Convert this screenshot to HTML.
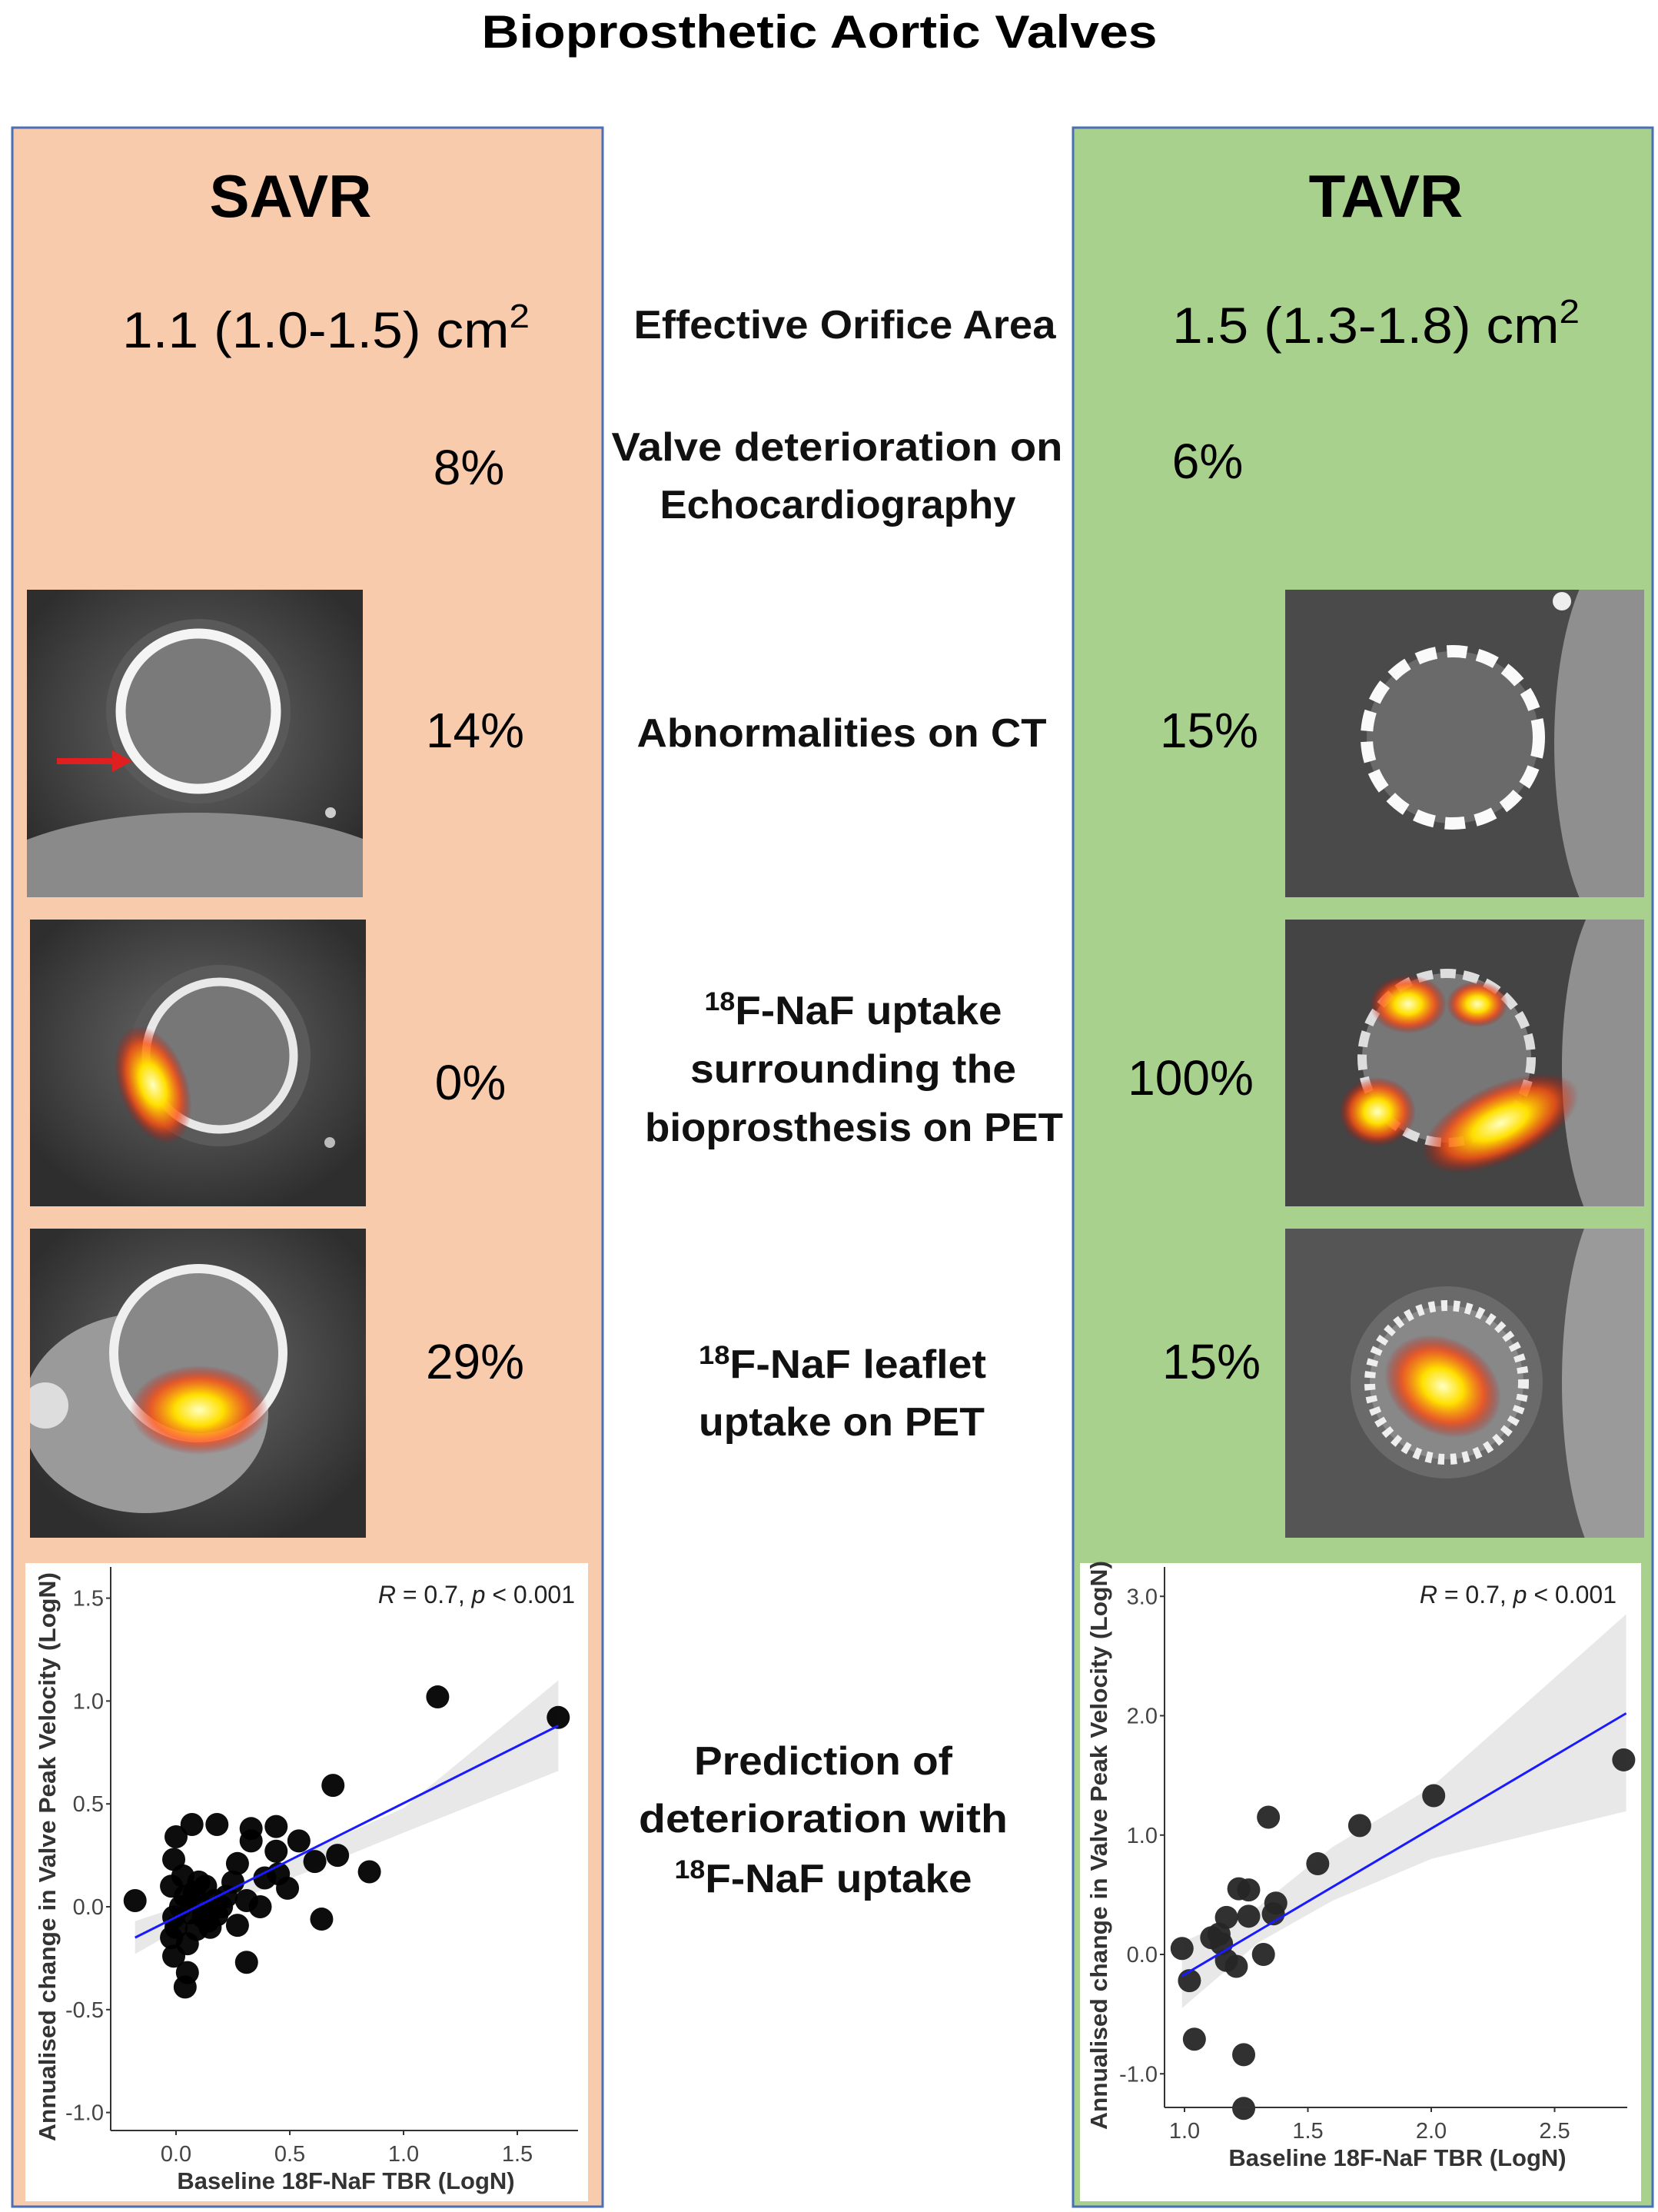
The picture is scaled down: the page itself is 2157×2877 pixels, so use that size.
<!DOCTYPE html>
<html><head><meta charset="utf-8"><style>
html,body{margin:0;padding:0;background:#fff;}
svg{display:block;font-family:"Liberation Sans",sans-serif;}
</style></head><body>
<svg id="root" width="2157" height="2877" viewBox="0 0 2157 2877" xmlns="http://www.w3.org/2000/svg">
<defs>
<radialGradient id="hot" cx="50%" cy="50%" r="50%"><stop offset="0" stop-color="#ffffc0"/><stop offset="0.35" stop-color="#ffe000"/><stop offset="0.7" stop-color="#ff5010" stop-opacity="0.8"/><stop offset="1" stop-color="#c00000" stop-opacity="0"/></radialGradient>
<radialGradient id="ctbg" cx="50%" cy="45%" r="60%"><stop offset="0" stop-color="#6a6a6a"/><stop offset="1" stop-color="#2e2e2e"/></radialGradient>
</defs>
<text x="1066" y="62" text-anchor="middle" font-size="60" font-weight="bold" textLength="879" lengthAdjust="spacingAndGlyphs">Bioprosthetic Aortic Valves</text>

<rect x="16" y="166" width="768" height="2704" fill="#f8cbad" stroke="#4a6fb5" stroke-width="3"/>
<rect x="1396" y="166" width="754" height="2704" fill="#a9d18e" stroke="#4a6fb5" stroke-width="3"/>

<text x="378" y="282" text-anchor="middle" font-size="78" font-weight="bold">SAVR</text>
<text x="1803" y="282" text-anchor="middle" font-size="78" font-weight="bold">TAVR</text>

<text x="424" y="452" text-anchor="middle" font-size="66" textLength="530" lengthAdjust="spacingAndGlyphs">1.1 (1.0-1.5) cm<tspan dy="-26" font-size="44">2</tspan></text>
<text x="1790" y="446" text-anchor="middle" font-size="66" textLength="530" lengthAdjust="spacingAndGlyphs">1.5 (1.3-1.8) cm<tspan dy="-26" font-size="44">2</tspan></text>

<g font-size="64" text-anchor="middle">
<text x="610" y="630">8%</text>
<text x="618" y="972">14%</text>
<text x="612" y="1430">0%</text>
<text x="618" y="1793">29%</text>
<text x="1571" y="622">6%</text>
<text x="1573" y="972">15%</text>
<text x="1549" y="1424">100%</text>
<text x="1576" y="1793">15%</text>
</g>

<g font-size="52" font-weight="bold" text-anchor="middle" fill="#111">
<text x="1099" y="440" textLength="549" lengthAdjust="spacingAndGlyphs">Effective Orifice Area</text>
<text x="1089" y="599" textLength="587" lengthAdjust="spacingAndGlyphs">Valve deterioration on</text>
<text x="1090" y="674" textLength="463" lengthAdjust="spacingAndGlyphs">Echocardiography</text>
<text x="1095" y="971" textLength="533" lengthAdjust="spacingAndGlyphs">Abnormalities on CT</text>
<text x="1110" y="1332" textLength="387" lengthAdjust="spacingAndGlyphs"><tspan font-size="34" dy="-18">18</tspan><tspan dy="18">F-NaF uptake</tspan></text>
<text x="1110" y="1408" textLength="424" lengthAdjust="spacingAndGlyphs">surrounding the</text>
<text x="1111" y="1484" textLength="544" lengthAdjust="spacingAndGlyphs">bioprosthesis on PET</text>
<text x="1096" y="1792" textLength="374" lengthAdjust="spacingAndGlyphs"><tspan font-size="34" dy="-18">18</tspan><tspan dy="18">F-NaF leaflet</tspan></text>
<text x="1095" y="1867" textLength="372" lengthAdjust="spacingAndGlyphs">uptake on PET</text>
<text x="1071" y="2308" textLength="336" lengthAdjust="spacingAndGlyphs">Prediction of</text>
<text x="1071" y="2383" textLength="480" lengthAdjust="spacingAndGlyphs">deterioration with</text>
<text x="1071" y="2461" textLength="387" lengthAdjust="spacingAndGlyphs"><tspan font-size="34" dy="-18">18</tspan><tspan dy="18">F-NaF uptake</tspan></text>
</g>

<g>
<svg x="35" y="767" width="437" height="400" overflow="hidden">
<rect width="437" height="400" fill="url(#ctbg)"/>
<ellipse cx="220" cy="400" rx="300" ry="110" fill="#8a8a8a"/>
<circle cx="223" cy="158" r="120" fill="#595959"/>
<circle cx="223" cy="158" r="101" fill="#7a7a7a" stroke="#f4f4f4" stroke-width="13"/>
<circle cx="395" cy="290" r="7" fill="#ccc"/>
</svg>
<line x1="74" y1="990" x2="150" y2="990" stroke="#e02020" stroke-width="8"/>
<polygon points="172,990 146,976 146,1004" fill="#e02020"/>
</g>
<g>
<svg x="39" y="1196" width="437" height="373" overflow="hidden">
<rect width="437" height="373" fill="url(#ctbg)"/>
<circle cx="247" cy="177" r="118" fill="#5a5a5a"/>
<circle cx="247" cy="177" r="96" fill="#777" stroke="#e8e8e8" stroke-width="11"/>
<ellipse cx="160" cy="215" rx="45" ry="80" fill="url(#hot)" transform="rotate(-20 160 215)"/>
<circle cx="390" cy="290" r="7" fill="#bbb"/>
</svg></g>
<g>
<svg x="39" y="1598" width="437" height="402" overflow="hidden">
<rect width="437" height="402" fill="url(#ctbg)"/>
<ellipse cx="150" cy="240" rx="160" ry="130" fill="#9a9a9a"/>
<circle cx="219" cy="162" r="110" fill="#888" stroke="#efefef" stroke-width="12"/>
<ellipse cx="220" cy="236" rx="90" ry="58" fill="url(#hot)"/>
<circle cx="20" cy="230" r="30" fill="#ddd"/>
</svg></g>
<g>
<svg x="1672" y="767" width="467" height="400" overflow="hidden">
<rect width="467" height="400" fill="#4a4a4a"/>
<ellipse cx="440" cy="200" rx="90" ry="260" fill="#8f8f8f"/>
<circle cx="218" cy="192" r="112" fill="#6a6a6a" stroke="#fafafa" stroke-width="16" stroke-dasharray="26 14"/>
<circle cx="360" cy="15" r="12" fill="#eee"/>
</svg></g>
<g>
<svg x="1672" y="1196" width="467" height="373" overflow="hidden">
<rect width="467" height="373" fill="#444"/>
<ellipse cx="440" cy="190" rx="80" ry="240" fill="#909090"/>
<circle cx="210" cy="180" r="110" fill="#777" stroke="#ddd" stroke-width="12" stroke-dasharray="20 10"/>
<ellipse cx="160" cy="110" rx="50" ry="38" fill="url(#hot)"/>
<ellipse cx="250" cy="110" rx="40" ry="30" fill="url(#hot)"/>
<ellipse cx="120" cy="250" rx="50" ry="45" fill="url(#hot)"/>
<ellipse cx="280" cy="265" rx="110" ry="50" fill="url(#hot)" transform="rotate(-25 280 265)"/>
</svg></g>
<g>
<svg x="1672" y="1598" width="467" height="402" overflow="hidden">
<rect width="467" height="402" fill="#555"/>
<ellipse cx="440" cy="200" rx="80" ry="260" fill="#9a9a9a"/>
<circle cx="210" cy="200" r="125" fill="#6a6a6a"/>
<circle cx="210" cy="200" r="100" fill="#888" stroke="#eee" stroke-width="14" stroke-dasharray="8 8"/>
<ellipse cx="205" cy="205" rx="80" ry="62" fill="url(#hot)" transform="rotate(30 205 205)"/>
</svg></g>

<rect x="33" y="2033" width="732" height="830" fill="#fff"/>
<rect x="1405" y="2033" width="730" height="830" fill="#fff"/>
<g id="plotL"></g>
<g id="plotR"></g>
</svg>
<script>
// SAVR data
const savrX = [-0.18,1.15,1.68,0.69,0.85,0.64,0.71,0.31,0.04,0.05,-0.01,0.07,0.18,0.0,0.33,0.44,0.33,0.54,0.27,0.61,-0.01,0.49,0.37,0.31,0.27,0.44,0.45,0.39,-0.02,0.10,0.04,0.17,-0.01,0.09,0.14,-0.02,0.02,0.06,0.10,0.12,0.08,0.15,0.0,0.05,0.20,0.13,0.03,0.22,0.25,0.18];
const savrY = [0.03,1.02,0.92,0.59,0.17,-0.06,0.25,-0.27,-0.39,-0.32,-0.24,0.40,0.40,0.34,0.38,0.39,0.32,0.32,0.21,0.22,0.23,0.09,0.0,0.03,-0.09,0.27,0.16,0.14,0.10,0.12,0.05,0.03,-0.05,-0.11,-0.07,-0.15,0.0,-0.03,0.02,-0.05,0.07,-0.10,-0.10,-0.18,0.0,0.10,0.15,0.05,0.12,-0.04];
const savrFitX = [-0.18,1.68];
const savrFitY = [-0.15,0.88];
const savrBandX = [-0.18,0.15,0.6,1.0,1.68];
const savrBandLo = [-0.23,-0.02,0.18,0.36,0.66];
const savrBandHi = [-0.07,0.05,0.28,0.48,1.10];
const savrXTicks = [0.0,0.5,1.0,1.5];
const savrYTicks = [-1.0,-0.5,0.0,0.5,1.0,1.5];
// TAVR data
const tavrX = [0.99,1.02,1.04,1.24,1.24,1.34,1.71,1.54,2.01,2.78,1.22,1.26,1.17,1.26,1.37,1.36,1.11,1.15,1.17,1.21,1.32,1.14];
const tavrY = [0.05,-0.22,-0.71,-0.84,-1.29,1.15,1.08,0.76,1.33,1.63,0.55,0.54,0.31,0.32,0.43,0.34,0.14,0.09,-0.05,-0.10,0.0,0.17];
const tavrFitX = [0.99,2.79];
const tavrFitY = [-0.18,2.02];
const tavrBandX = [0.99,1.3,1.6,2.0,2.79];
const tavrBandLo = [-0.45,0.1,0.45,0.8,1.2];
const tavrBandHi = [0.1,0.4,0.9,1.4,2.85];
const tavrXTicks = [1.0,1.5,2.0,2.5];
const tavrYTicks = [-1.0,0.0,1.0,2.0,3.0];

const NS='http://www.w3.org/2000/svg';
function mk(tag, attrs, parent){const e=document.createElementNS(NS,tag);for(const k in attrs)e.setAttribute(k,attrs[k]);parent.appendChild(e);return e;}

function drawPlot(g, cfg){
  const sx=v=>cfg.x0px+(v-cfg.x0)*cfg.xs;
  const sy=v=>cfg.y0px-(v-cfg.y0)*cfg.ys;
  let pts=cfg.bx.map((x,i)=>sx(x)+','+sy(cfg.bhi[i]));
  pts=pts.concat(cfg.bx.slice().reverse().map((x,i)=>sx(x)+','+sy(cfg.blo[cfg.bx.length-1-i])));
  const band=mk('polygon',{points:pts.join(' '),fill:'#d9d9d9','fill-opacity':'0.6'},g);
  
  
  cfg.px.forEach((x,i)=>{
    const c=mk('circle',{cx:sx(x),cy:sy(cfg.py[i]),r:15,fill:cfg.dot,'fill-opacity':'0.95'},g);
    
    
  });
  const ln=mk('line',{x1:sx(cfg.fx[0]),y1:sy(cfg.fy[0]),x2:sx(cfg.fx[1]),y2:sy(cfg.fy[1]),stroke:'#1a1aff','stroke-width':3},g);
  
  
  const ya=mk('line',{x1:cfg.axX,y1:cfg.top,x2:cfg.axX,y2:cfg.axY,stroke:'#333','stroke-width':2},g);
  
  
  const xa=mk('line',{x1:cfg.axX,y1:cfg.axY,x2:cfg.right,y2:cfg.axY,stroke:'#333','stroke-width':2},g);
  
  
  cfg.xt.forEach(v=>{
    mk('line',{x1:sx(v),y1:cfg.axY,x2:sx(v),y2:cfg.axY+6,stroke:'#333','stroke-width':2},g);
    const t=mk('text',{x:sx(v),y:cfg.axY+40,'text-anchor':'middle','font-size':29,fill:'#444'},g);
    t.textContent=v.toFixed(1);
    
    
  });
  cfg.yt.forEach(v=>{
    mk('line',{x1:cfg.axX-6,y1:sy(v),x2:cfg.axX,y2:sy(v),stroke:'#333','stroke-width':2},g);
    const t=mk('text',{x:cfg.axX-9,y:sy(v)+10,'text-anchor':'end','font-size':29,fill:'#444'},g);
    t.textContent=v.toFixed(1);
    
    
  });
  const xt=mk('text',{x:cfg.xTitleX,y:cfg.axY+76,'text-anchor':'middle','font-size':31,'font-weight':'bold',fill:'#333'},g);
  xt.textContent='Baseline 18F-NaF TBR (LogN)';
  
  
  const yt=mk('text',{x:0,y:0,'text-anchor':'middle','font-size':31,'font-weight':'bold',fill:'#333',textLength:cfg.yTitleLen,lengthAdjust:'spacingAndGlyphs',transform:`translate(${cfg.yTitleX},${cfg.yTitleY}) rotate(-90)`},g);
  yt.textContent='Annualised change in Valve Peak Velocity (LogN)';
  
  
  const an=mk('text',{x:cfg.annX,y:cfg.annY,'text-anchor':'end','font-size':32,fill:'#222'},g);
  an.innerHTML='<tspan font-style="italic">R</tspan> = 0.7, <tspan font-style="italic">p</tspan> &lt; 0.001';
  
  
}
drawPlot(document.getElementById('plotL'),{x0:0,x0px:229,xs:296,y0:0,y0px:2480,ys:267.6,
  px:savrX,py:savrY,fx:savrFitX,fy:savrFitY,bx:savrBandX,blo:savrBandLo,bhi:savrBandHi,xt:savrXTicks,yt:savrYTicks,
  axX:144,axY:2771,top:2038,right:752,dot:'#000',xTitleX:450,yTitleX:72,yTitleY:2415,yTitleLen:740,annX:748,annY:2085});
drawPlot(document.getElementById('plotR'),{x0:1,x0px:1541,xs:321,y0:0,y0px:2542,ys:155.25,
  px:tavrX,py:tavrY,fx:tavrFitX,fy:tavrFitY,bx:tavrBandX,blo:tavrBandLo,bhi:tavrBandHi,xt:tavrXTicks,yt:tavrYTicks,
  axX:1515,axY:2741,top:2038,right:2117,dot:'#262626',xTitleX:1818,yTitleX:1440,yTitleY:2400,yTitleLen:740,annX:2103,annY:2085});
</script>
</body></html>
